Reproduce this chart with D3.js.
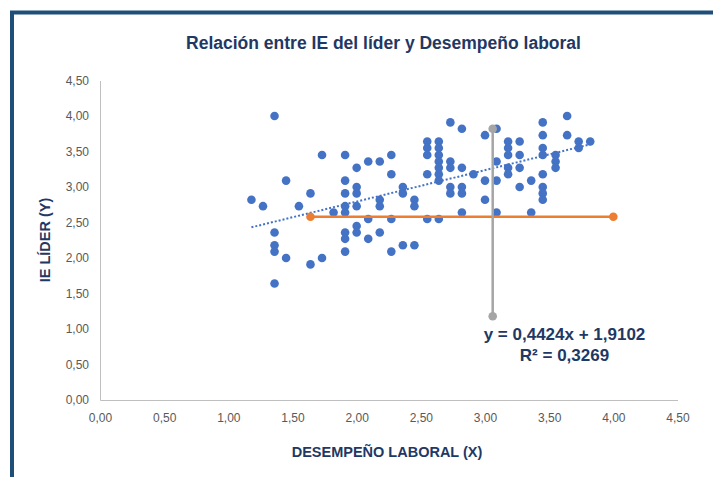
<!DOCTYPE html>
<html>
<head>
<meta charset="utf-8">
<script src="https://cdn.jsdelivr.net/npm/d3@7"></script>
<style>
  html, body { margin: 0; padding: 0; background: #fff; }
  svg { display: block; }
</style>
</head>
<body>
<script>
// ---- Data ----
const xValues = [
  1.18,
  1.27,
  1.36, 1.36, 1.36, 1.36, 1.36,
  1.45, 1.45,
  1.55,
  1.64, 1.64,
  1.73, 1.73,
  1.82,
  1.91, 1.91, 1.91, 1.91, 1.91, 1.91, 1.91, 1.91,
  2.00, 2.00, 2.00, 2.00, 2.00, 2.00,
  2.09, 2.09, 2.09,
  2.18, 2.18, 2.18, 2.18,
  2.27, 2.27, 2.27, 2.27,
  2.36, 2.36, 2.36,
  2.45, 2.45, 2.45,
  2.55, 2.55, 2.55, 2.55, 2.55,
  2.64, 2.64, 2.64, 2.64, 2.64, 2.64, 2.64, 2.64,
  2.73, 2.73, 2.73, 2.73, 2.73,
  2.82, 2.82, 2.82, 2.82, 2.82,
  2.91,
  3.00, 3.00, 3.00,
  3.09, 3.09, 3.09, 3.09,
  3.18, 3.18, 3.18, 3.18, 3.18,
  3.27, 3.27, 3.27, 3.27,
  3.36, 3.36,
  3.45, 3.45, 3.45, 3.45, 3.45, 3.45, 3.45, 3.45,
  3.55, 3.55, 3.55,
  3.64, 3.64,
  3.73, 3.73,
  3.82
];
const yValues = [
  2.82,
  2.73,
  4.00, 2.36, 2.18, 2.09, 1.64,
  3.09, 2.00,
  2.73,
  2.91, 1.91,
  3.45, 2.00,
  2.64,
  3.45, 3.09, 2.91, 2.73, 2.64, 2.36, 2.27, 2.09,
  3.27, 3.00, 2.91, 2.73, 2.45, 2.36,
  3.36, 2.55, 2.27,
  3.36, 2.82, 2.73, 2.36,
  3.45, 3.18, 2.55, 2.09,
  3.00, 2.91, 2.18,
  2.82, 2.73, 2.18,
  3.64, 3.55, 3.45, 3.18, 2.55,
  3.64, 3.55, 3.45, 3.36, 3.27, 3.18, 3.09, 2.55,
  3.91, 3.36, 3.27, 3.00, 2.91,
  3.82, 3.27, 3.00, 2.91, 2.64,
  3.18,
  3.73, 3.09, 2.82,
  3.82, 3.36, 3.09, 2.64,
  3.64, 3.55, 3.45, 3.27, 3.18,
  3.64, 3.45, 3.27, 3.00,
  3.09, 2.64,
  3.91, 3.73, 3.55, 3.45, 3.18, 3.00, 2.91, 2.82,
  3.45, 3.36, 3.27,
  4.00, 3.73,
  3.64, 3.55,
  3.64
];
// Helper series (horizontal orange, vertical grey)
const orangeX = [1.64, 4.00];
const orangeY = [2.58, 2.58];
const greyX = [3.06, 3.06];
const greyY = [3.82, 1.18];

// Trend line (linear) as given in the label
const trendSlope = 0.4424;
const trendIntercept = 1.9102;
const equationLines = ["y = 0,4424x + 1,9102", "R² = 0,3269"];

const xTicks = [0, 0.5, 1, 1.5, 2, 2.5, 3, 3.5, 4, 4.5];
const xTickLabels = ["0,00","0,50","1,00","1,50","2,00","2,50","3,00","3,50","4,00","4,50"];
const yTicks = [0, 0.5, 1, 1.5, 2, 2.5, 3, 3.5, 4, 4.5];
const yTickLabels = ["0,00","0,50","1,00","1,50","2,00","2,50","3,00","3,50","4,00","4,50"];

const titleText = "Relación entre IE del líder y Desempeño laboral";
const xTitle = "DESEMPEÑO LABORAL (X)";
const yTitle = "IE LÍDER (Y)";

// ---- Drawing ----
const W = 713, H = 477;
const svg = d3.select("body").append("svg").attr("width", W).attr("height", H);

svg.append("rect").attr("width", W).attr("height", H).attr("fill", "#fff");

// outer frame
svg.append("rect")
  .attr("x", 12).attr("y", 12.5)
  .attr("width", 760).attr("height", 520)
  .attr("fill", "none")
  .attr("stroke", "#1F4E79")
  .attr("stroke-width", 4);

const x = d3.scaleLinear().domain([0, 4.5]).range([100, 677.5]);
const y = d3.scaleLinear().domain([0, 4.5]).range([400, 80.5]);

const font = "'Liberation Sans', Arial, sans-serif";
const navy = "#1F3864";

// axes
const xAxis = d3.axisBottom(x)
  .tickValues(xTicks)
  .tickFormat((d, i) => xTickLabels[i])
  .tickSize(0).tickPadding(13);
const yAxis = d3.axisLeft(y)
  .tickValues(yTicks)
  .tickFormat((d, i) => yTickLabels[i])
  .tickSize(0).tickPadding(11);

const gx = svg.append("g").attr("transform", "translate(0,400)").call(xAxis);
const gy = svg.append("g").attr("transform", "translate(100,0)").call(yAxis);
[gx, gy].forEach(g => {
  g.select(".domain").attr("stroke", "#BFBFBF").attr("stroke-width", 1);
  g.selectAll("text")
    .attr("fill", "#595959")
    .style("font-family", font)
    .style("font-size", "12px");
});

// points
svg.append("g").selectAll("circle")
  .data(xValues.map((v, i) => [v, yValues[i]]))
  .join("circle")
  .attr("cx", d => x(d[0]))
  .attr("cy", d => y(d[1]))
  .attr("r", 4.3)
  .attr("fill", "#4472C4");

// trend line (dotted)
const xExt = d3.extent(xValues);
svg.append("path")
  .datum(xExt.map(v => [v, trendSlope * v + trendIntercept]))
  .attr("d", d3.line().x(d => x(d[0])).y(d => y(d[1])))
  .attr("fill", "none")
  .attr("stroke", "#4472C4")
  .attr("stroke-width", 2)
  .attr("stroke-dasharray", "2,2");

// helper series
function helper(xs, ys, color) {
  const pts = xs.map((v, i) => [v, ys[i]]);
  svg.append("path")
    .datum(pts)
    .attr("d", d3.line().x(d => x(d[0])).y(d => y(d[1])))
    .attr("fill", "none")
    .attr("stroke", color)
    .attr("stroke-width", 2.5);
  svg.append("g").selectAll("circle")
    .data(pts).join("circle")
    .attr("cx", d => x(d[0])).attr("cy", d => y(d[1]))
    .attr("r", 4.3).attr("fill", color);
}
helper(orangeX, orangeY, "#ED7D31");
helper(greyX, greyY, "#A5A5A5");

// title
svg.append("text")
  .attr("x", 383.5).attr("y", 49)
  .attr("text-anchor", "middle")
  .style("font-family", font).style("font-weight", "bold").style("font-size", "17.5px")
  .attr("fill", navy)
  .text(titleText);

// axis titles
svg.append("text")
  .attr("x", 387).attr("y", 457)
  .attr("text-anchor", "middle")
  .style("font-family", font).style("font-weight", "bold").style("font-size", "14.5px")
  .attr("fill", navy)
  .text(xTitle);
svg.append("text")
  .attr("transform", "translate(50,240) rotate(-90)")
  .attr("text-anchor", "middle")
  .style("font-family", font).style("font-weight", "bold").style("font-size", "14.5px")
  .attr("fill", navy)
  .text(yTitle);

// equation label
svg.append("g").selectAll("text")
  .data(equationLines).join("text")
  .attr("x", 564.5)
  .attr("y", (d, i) => 340 + i * 21)
  .attr("text-anchor", "middle")
  .style("font-family", font).style("font-weight", "bold").style("font-size", "17px")
  .attr("fill", navy)
  .text(d => d);
</script>
</body>
</html>
